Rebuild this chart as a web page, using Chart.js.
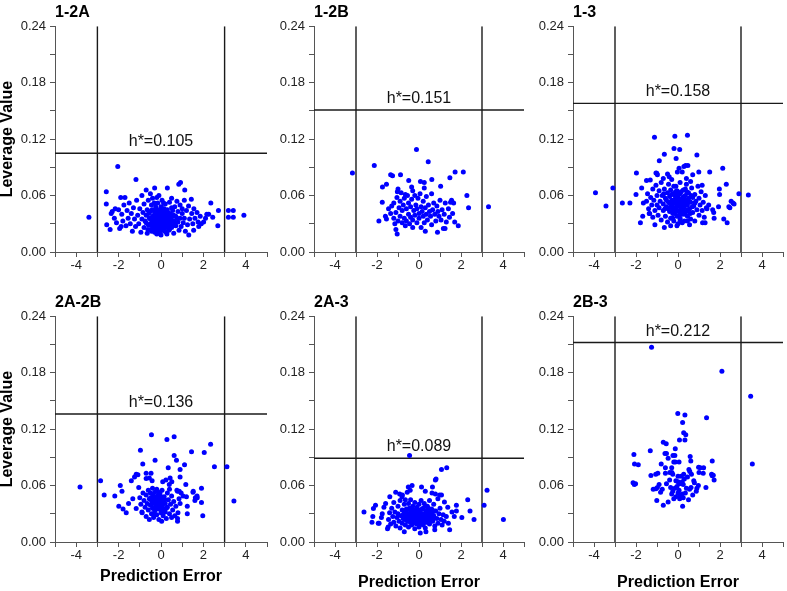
<!DOCTYPE html>
<html>
<head>
<meta charset="utf-8">
<script src="https://cdn.jsdelivr.net/npm/chart.js@4.4.0/dist/chart.umd.min.js"></script>
<style>
  body { margin: 0; background: #fff; width: 787px; height: 591px; position: relative; overflow: hidden; }
  canvas { position: absolute; }
</style>
</head>
<body>
<script>
// panel names and thresholds
const panelNames = ['1-2A', '1-2B', '1-3', '2A-2B', '2A-3', '2B-3'];
const hStar = [0.105, 0.151, 0.158, 0.136, 0.089, 0.212];
const errorLimits = [-3, 3];

// [prediction error, leverage value]
const pts12A = [
  [-3.40,0.037],[-2.04,0.091],[-1.18,0.077],[0.92,0.074],[0.84,0.072],[-2.58,0.064],[-2.58,0.051],[-2.56,0.029],
  [-2.40,0.024],[-2.35,0.041],[-2.16,0.046],[-1.88,0.027],[1.12,0.066],[1.43,0.056],[2.35,0.052],[2.71,0.044],
  [2.68,0.028],[3.18,0.044],[3.41,0.044],[3.18,0.037],[3.41,0.037],[3.91,0.039],[2.44,0.037],[2.16,0.040],
  [2.01,0.032],[1.78,0.027],[1.54,0.023],[1.31,0.018],
  [-2.3,0.043],[-2.2,0.036],[-2.1,0.031],[-2.0,0.045],[-1.95,0.025],[-1.9,0.058],[-1.85,0.040],[-1.8,0.033],
  [-1.75,0.050],[-1.7,0.058],[-1.65,0.028],[-1.6,0.044],[-1.55,0.036],[-1.5,0.052],[-1.45,0.030],[-1.4,0.041],
  [-1.35,0.022],[-1.3,0.047],[-1.25,0.035],[-1.2,0.027],[-1.15,0.055],[-1.1,0.039],[-1.05,0.030],[-1.0,0.046],
  [-0.95,0.021],[-0.9,0.060],[-0.9,0.035],[-0.85,0.042],[-0.8,0.026],[-0.8,0.051],[-0.75,0.033],[-0.7,0.066],
  [-0.7,0.039],[-0.65,0.020],[-0.65,0.045],[-0.6,0.029],[-0.6,0.055],[-0.55,0.036],[-0.5,0.062],[-0.5,0.024],
  [-0.5,0.043],[-0.45,0.031],[-0.45,0.050],[-0.4,0.038],[-0.4,0.027],[-0.4,0.057],[-0.35,0.034],[-0.35,0.044],
  [-0.3,0.068],[-0.3,0.021],[-0.3,0.030],[-0.3,0.040],[-0.25,0.036],[-0.25,0.048],[-0.25,0.026],[-0.2,0.033],
  [-0.2,0.043],[-0.2,0.058],[-0.2,0.019],[-0.15,0.029],[-0.15,0.038],[-0.15,0.052],[-0.1,0.060],[-0.1,0.024],
  [-0.1,0.035],[-0.1,0.045],[-0.05,0.031],[-0.05,0.040],[0.0,0.027],[0.0,0.036],[0.0,0.048],[0.0,0.018],
  [0.05,0.033],[0.05,0.042],[0.05,0.055],[0.1,0.029],[0.1,0.038],[0.1,0.023],[0.15,0.046],[0.15,0.034],
  [0.2,0.040],[0.2,0.027],[0.2,0.051],[0.25,0.032],[0.25,0.021],[0.3,0.068],[0.3,0.037],[0.3,0.045],
  [0.35,0.028],[0.35,0.034],[0.4,0.041],[0.4,0.024],[0.4,0.053],[0.45,0.031],[0.5,0.057],[0.5,0.037],
  [0.5,0.026],[0.55,0.044],[0.6,0.033],[0.6,0.020],[0.65,0.048],[0.7,0.038],[0.7,0.028],[0.75,0.054],
  [0.8,0.043],[0.8,0.032],[0.85,0.023],[0.9,0.050],[0.9,0.036],[0.95,0.027],[1.0,0.046],[1.0,0.041],
  [1.05,0.031],[1.1,0.055],[1.1,0.036],[1.15,0.022],[1.2,0.044],[1.25,0.029],[1.3,0.049],[1.35,0.035],
  [1.45,0.041],[1.5,0.030],[1.55,0.046],[1.6,0.036],[1.7,0.042],[1.75,0.032],[1.85,0.038],[1.9,0.030],
  [2.1,0.036],[2.25,0.040],
  [-0.35,0.025],[-0.3,0.036],[-0.28,0.045],[-0.25,0.031],[-0.22,0.039],[-0.2,0.024],[-0.18,0.035],[-0.15,0.042],
  [-0.12,0.027],[-0.1,0.032],[-0.08,0.040],[-0.05,0.022],[-0.05,0.036],[-0.02,0.044],[0.0,0.031],[0.02,0.039],
  [0.03,0.025],[0.06,0.035],[0.08,0.046],[0.1,0.032],[0.12,0.041],[0.13,0.027],[0.15,0.037],[0.17,0.022],
  [0.18,0.043],[0.2,0.034],[0.22,0.030],[0.25,0.039],[0.27,0.026],[0.3,0.033],[0.32,0.042],[0.35,0.038],
  [0.37,0.023],[0.4,0.035],[0.42,0.029],[0.45,0.040],[0.48,0.033],[0.5,0.047],[-0.4,0.033],[-0.42,0.045],
  [-0.45,0.022],[-0.5,0.035],[-0.55,0.029],[-0.58,0.041],[-0.62,0.024],[0.55,0.028],[0.6,0.039],[0.65,0.031],
  [-0.32,0.052],[0.12,0.052],[-0.7,0.031],[0.75,0.036],[-0.15,0.020],[0.28,0.019],[-0.38,0.030]
];

const pts12B = [
  [-3.17,0.084],[-2.13,0.092],[-0.12,0.109],[0.44,0.096],[-1.35,0.082],[-1.26,0.081],[-0.88,0.082],[-1.55,0.072],
  [-1.74,0.069],[1.72,0.085],[2.11,0.085],[1.47,0.079],[2.28,0.060],[2.36,0.047],[3.31,0.048],[-1.91,0.033],
  [-1.75,0.053],[-1.10,0.024],[-1.04,0.019],[0.88,0.021],[1.87,0.028],[1.16,0.025],[1.24,0.025],[0.07,0.075],
  [0.25,0.074],[0.25,0.068],[-0.49,0.076],[0.61,0.077],[1.03,0.070],[-0.35,0.069],[-0.30,0.065],[-1.0,0.067],
  [-1.03,0.064],[-0.65,0.061],
  [-1.6,0.038],[-1.55,0.035],[-1.45,0.046],[-1.35,0.041],[-1.3,0.049],[-1.2,0.036],[-1.2,0.052],[-1.15,0.030],
  [-1.1,0.042],[-1.05,0.058],[-1.0,0.033],[-0.95,0.047],[-0.9,0.054],[-0.9,0.038],[-0.85,0.063],[-0.8,0.031],
  [-0.8,0.044],[-0.75,0.050],[-0.7,0.057],[-0.7,0.036],[-0.65,0.028],[-0.6,0.046],[-0.6,0.033],[-0.55,0.060],
  [-0.5,0.040],[-0.5,0.052],[-0.45,0.030],[-0.4,0.037],[-0.4,0.048],[-0.35,0.056],[-0.3,0.034],[-0.3,0.026],
  [-0.25,0.044],[-0.2,0.060],[-0.2,0.039],[-0.15,0.050],[-0.1,0.031],[-0.1,0.046],[-0.05,0.057],[0.0,0.041],
  [0.0,0.036],[0.05,0.062],[0.1,0.026],[0.1,0.048],[0.15,0.043],[0.2,0.038],[0.2,0.054],[0.25,0.031],
  [0.3,0.047],[0.3,0.022],[0.35,0.059],[0.35,0.040],[0.4,0.034],[0.45,0.050],[0.5,0.043],[0.55,0.038],
  [0.6,0.029],[0.6,0.062],[0.65,0.045],[0.7,0.052],[0.75,0.040],[0.8,0.033],[0.85,0.049],[0.9,0.043],
  [0.95,0.038],[1.0,0.055],[1.05,0.034],[1.1,0.045],[1.2,0.040],[1.25,0.052],[1.3,0.032],[1.4,0.046],
  [1.45,0.037],[1.5,0.053],[1.55,0.055],[1.6,0.041],[1.65,0.052],[1.7,0.032]
];

const pts13 = [
  [-3.93,0.063],[-3.43,0.049],[-3.10,0.068],[-2.65,0.052],[-2.29,0.052],[-1.98,0.084],[-1.12,0.122],[-0.15,0.123],
  [0.45,0.124],[-0.65,0.104],[-0.19,0.110],[0.08,0.109],[-0.09,0.0995],[-0.89,0.097],[0.90,0.103],[2.13,0.089],
  [1.51,0.085],[2.90,0.062],[3.35,0.0605],[2.30,0.072],[2.62,0.052],[2.42,0.048],[2.34,0.031],[2.18,0.035],
  [1.72,0.036],[-1.79,0.031],[-0.65,0.026],[-0.05,0.028],[1.17,0.031],[1.29,0.031],[0.36,0.092],[0.47,0.092],
  [-1.32,0.0765],[-1.01,0.0836],
  [-1.5,0.054],[-1.45,0.062],[-1.4,0.046],[-1.35,0.041],[-1.3,0.058],[-1.25,0.050],[-1.2,0.067],[-1.2,0.037],
  [-1.15,0.055],[-1.1,0.044],[-1.05,0.071],[-1.0,0.050],[-1.0,0.060],[-0.95,0.039],[-0.9,0.065],[-0.9,0.047],
  [-0.85,0.054],[-0.8,0.034],[-0.8,0.074],[-0.75,0.060],[-0.7,0.044],[-0.7,0.051],[-0.65,0.067],[-0.6,0.038],
  [-0.6,0.057],[-0.55,0.048],[-0.5,0.063],[-0.5,0.032],[-0.45,0.053],[-0.45,0.072],[-0.4,0.043],[-0.4,0.059],
  [-0.35,0.036],[-0.35,0.066],[-0.3,0.050],[-0.3,0.055],[-0.25,0.041],[-0.25,0.062],[-0.2,0.047],[-0.2,0.070],
  [-0.2,0.033],[-0.15,0.056],[-0.15,0.060],[-0.1,0.044],[-0.1,0.052],[-0.05,0.038],[-0.05,0.065],[0.0,0.049],
  [0.0,0.058],[0.0,0.030],[0.05,0.054],[0.05,0.043],[0.1,0.062],[0.1,0.036],[0.1,0.074],[0.15,0.050],
  [0.15,0.046],[0.2,0.057],[0.2,0.040],[0.25,0.066],[0.25,0.052],[0.3,0.033],[0.3,0.047],[0.35,0.060],
  [0.35,0.055],[0.4,0.043],[0.4,0.072],[0.45,0.050],[0.45,0.038],[0.5,0.063],[0.5,0.057],[0.55,0.046],
  [0.6,0.035],[0.6,0.053],[0.65,0.068],[0.7,0.042],[0.7,0.058],[0.75,0.049],[0.8,0.061],[0.8,0.033],
  [0.85,0.054],[0.9,0.045],[0.95,0.070],[1.0,0.039],[1.0,0.057],[1.05,0.050],[1.1,0.064],[1.15,0.044],
  [1.2,0.053],[1.25,0.037],[1.3,0.060],[1.35,0.047],[1.46,0.050],[1.38,0.046],[1.65,0.045],[1.7,0.042],
  [1.97,0.067],[1.98,0.061],[2.53,0.054],[2.67,0.051],[2.47,0.047],[1.93,0.048],[-2.0,0.061],[-1.65,0.052],
  [-1.73,0.068],[-1.5,0.076],[-1.68,0.038],[-1.37,0.041],[-1.05,0.084],[-0.98,0.082],[-0.5,0.083],[-0.42,0.080],
  [0.05,0.089],[-0.03,0.085],[0.28,0.091],[0.2,0.085],[0.7,0.082],[0.99,0.085],[-0.3,0.077],[0.4,0.078],
  [0.6,0.075],[-0.7,0.078],[1.15,0.071],[-1.1,0.029],[0.55,0.029],[0.2,0.031],[-0.35,0.028],
  [-0.45,0.046],[-0.4,0.052],[-0.35,0.048],[-0.3,0.061],[-0.25,0.045],[-0.2,0.052],[-0.15,0.041],[-0.12,0.064],
  [-0.08,0.048],[-0.05,0.055],[0.0,0.044],[0.02,0.062],[0.05,0.050],[0.08,0.040],[0.12,0.056],[0.15,0.064],
  [0.18,0.045],[0.22,0.053],[0.25,0.043],[0.28,0.059],[0.3,0.050],[0.33,0.040],[0.38,0.052],[0.42,0.064],
  [0.48,0.045],[0.52,0.054],[0.58,0.041],[0.62,0.060],[0.68,0.048],[-0.55,0.055],[-0.62,0.046],[-0.68,0.062],
  [-0.1,0.070],[0.35,0.067],[0.1,0.034],[-0.25,0.036],[0.45,0.033],[0.8,0.052]
];

const pts2A2B = [
  [-3.82,0.0585],[-2.85,0.065],[-2.68,0.050],[-2.18,0.049],[-1.99,0.038],[-1.92,0.060],[-1.84,0.054],[-1.79,0.035],
  [-1.64,0.031],[-1.53,0.041],[-1.40,0.065],[-1.33,0.046],[-1.25,0.069],[-1.17,0.072],[-1.17,0.0355],[-1.05,0.058],
  [-0.97,0.0975],[-0.86,0.083],[-0.70,0.073],[-0.70,0.0675],[-0.45,0.114],[-0.28,0.087],[-0.47,0.073],[0.28,0.109],
  [0.62,0.112],[0.62,0.092],[0.73,0.087],[0.34,0.079],[0.90,0.077],[1.11,0.082],[1.44,0.096],[2.04,0.095],
  [2.34,0.104],[2.52,0.080],[3.11,0.080],[3.44,0.0435],[1.17,0.061],[1.52,0.054],[1.62,0.047],[1.7,0.049],
  [1.91,0.057],[1.91,0.042],[1.97,0.028],[1.24,0.038],[1.24,0.030],[0.86,0.054],[0.95,0.052],[0.78,0.025],
  [0.78,0.022],[0.03,0.022],
  [-1.09,0.0716],[-0.55,0.068],[-0.42,0.065],[0.23,0.066],[0.43,0.068],[0.51,0.064],[0.39,0.061],[0.08,0.064],
  [0.9,0.069],[0.78,0.054],[1.04,0.049],[1.2,0.048],[1.51,0.053],[1.71,0.047],[1.6,0.044],[-0.89,0.031],
  [-1.0,0.047],[-0.95,0.040],[-0.9,0.032],[-0.85,0.052],[-0.8,0.044],[-0.75,0.037],[-0.7,0.050],[-0.7,0.027],
  [-0.65,0.041],[-0.6,0.055],[-0.6,0.034],[-0.55,0.046],[-0.55,0.024],[-0.5,0.039],[-0.5,0.052],[-0.45,0.030],
  [-0.45,0.044],[-0.4,0.057],[-0.4,0.036],[-0.35,0.048],[-0.35,0.026],[-0.3,0.041],[-0.3,0.053],[-0.3,0.033],
  [-0.25,0.045],[-0.25,0.038],[-0.2,0.056],[-0.2,0.029],[-0.15,0.042],[-0.15,0.049],[-0.1,0.035],[-0.1,0.024],
  [-0.05,0.046],[-0.05,0.052],[0.0,0.039],[0.0,0.031],[0.05,0.044],[0.05,0.055],[0.1,0.036],[0.1,0.028],
  [0.15,0.048],[0.2,0.041],[0.2,0.032],[0.25,0.025],[0.3,0.052],[0.3,0.037],[0.35,0.045],[0.4,0.030],
  [0.4,0.056],[0.45,0.040],[0.5,0.026],[0.5,0.049],[0.55,0.034],[0.6,0.043],[0.65,0.028],[0.7,0.038],
  [0.75,0.055],[0.8,0.031],[0.85,0.046],[0.9,0.041],
  [-0.42,0.041],[-0.38,0.050],[-0.32,0.045],[-0.27,0.034],[-0.22,0.048],[-0.18,0.038],[-0.12,0.053],[-0.08,0.042],
  [-0.02,0.035],[0.02,0.048],[0.08,0.040],[0.12,0.033],[0.18,0.045],[-0.35,0.029],[0.25,0.036],[-0.48,0.047]
];

const pts2A3 = [
  [-0.45,0.092],[1.07,0.077],[1.32,0.079],[0.81,0.067],[2.32,0.045],[2.43,0.033],[2.62,0.024],[2.04,0.026],
  [3.10,0.039],[3.24,0.055],[4.02,0.024],[-2.62,0.032],[-2.24,0.021],[-2.20,0.027],[-2.07,0.039],[-1.94,0.020],
  [-1.50,0.014],[-1.11,0.053],[-0.92,0.051],[-0.79,0.050],[-0.51,0.0585],[-0.33,0.060],[-0.56,0.053],[0.12,0.0585],
  [0.30,0.054],[0.64,0.0585],[0.62,0.052],[0.78,0.051],[1.07,0.050],[1.78,0.039],[1.78,0.033],[1.46,0.013],
  [-0.70,0.011],[0.06,0.0096],[0.33,0.011],[0.75,0.013],
  [-2.17,0.0355],[-1.75,0.030],[-1.67,0.037],[-1.59,0.041],[-1.79,0.026],[-1.39,0.048],[-1.47,0.016],[-0.81,0.048],
  [-0.42,0.055],[0.78,0.066],[0.98,0.050],[1.21,0.0425],[1.37,0.037],[1.57,0.032],[1.68,0.027],[-1.9,0.020],
  [-1.45,0.024],[-1.4,0.031],[-1.35,0.019],[-1.3,0.036],[-1.25,0.027],[-1.2,0.042],[-1.2,0.021],[-1.15,0.032],
  [-1.1,0.017],[-1.05,0.026],[-1.0,0.038],[-1.0,0.030],[-0.95,0.022],[-0.9,0.044],[-0.9,0.015],[-0.85,0.028],
  [-0.8,0.034],[-0.8,0.020],[-0.75,0.025],[-0.7,0.040],[-0.7,0.031],[-0.65,0.018],[-0.65,0.045],[-0.6,0.027],
  [-0.6,0.035],[-0.55,0.022],[-0.5,0.030],[-0.5,0.041],[-0.5,0.016],[-0.45,0.026],[-0.45,0.036],[-0.4,0.021],
  [-0.4,0.032],[-0.4,0.045],[-0.35,0.028],[-0.35,0.018],[-0.3,0.024],[-0.3,0.038],[-0.25,0.031],[-0.25,0.020],
  [-0.2,0.027],[-0.2,0.042],[-0.2,0.014],[-0.15,0.023],[-0.15,0.034],[-0.1,0.029],[-0.1,0.019],[-0.1,0.037],
  [-0.05,0.025],[-0.05,0.032],[0.0,0.022],[0.0,0.040],[0.0,0.016],[0.05,0.028],[0.05,0.034],[0.1,0.024],
  [0.1,0.020],[0.1,0.044],[0.15,0.030],[0.15,0.026],[0.2,0.036],[0.2,0.018],[0.25,0.023],[0.25,0.041],
  [0.3,0.029],[0.3,0.015],[0.35,0.033],[0.35,0.025],[0.4,0.021],[0.4,0.038],[0.45,0.027],[0.5,0.044],
  [0.5,0.019],[0.55,0.031],[0.55,0.024],[0.6,0.035],[0.65,0.022],[0.7,0.040],[0.7,0.028],[0.75,0.017],
  [0.8,0.033],[0.85,0.025],[0.9,0.046],[0.9,0.020],[0.95,0.030],[1.0,0.036],[1.05,0.024],[1.1,0.018],
  [1.15,0.029],[1.2,0.022],[1.3,0.027],[1.4,0.020],
  [-0.75,0.029],[-0.68,0.024],[-0.62,0.032],[-0.55,0.027],[-0.48,0.022],[-0.42,0.029],[-0.38,0.025],[-0.32,0.031],
  [-0.28,0.021],[-0.22,0.033],[-0.18,0.025],[-0.12,0.022],[-0.08,0.031],[-0.02,0.027],[0.02,0.024],[0.08,0.030],
  [0.12,0.027],[0.18,0.022],[0.22,0.030],[0.28,0.024],[0.32,0.021],[0.38,0.029],[0.42,0.025],[0.48,0.032],
  [0.52,0.022],[0.58,0.027],[0.62,0.030],[0.68,0.025],[0.72,0.033],[-0.15,0.029],[0.05,0.020],[0.15,0.035],
  [-0.3,0.034],[0.45,0.036],[-0.5,0.035],[0.3,0.038]
];

const pts2B3 = [
  [-1.26,0.207],[2.09,0.1815],[3.46,0.155],[3.54,0.083],[-0.01,0.1365],[0.33,0.135],[1.36,0.132],[0.22,0.127],
  [0.27,0.116],[0.37,0.114],[0.07,0.1085],[0.33,0.1085],[-0.70,0.106],[-0.56,0.1045],[-1.32,0.097],[-2.10,0.093],
  [-2.07,0.083],[-1.89,0.082],[-2.14,0.063],[-2.02,0.062],[-2.08,0.061],[-1.29,0.0706],[-1.06,0.072],[-0.96,0.073],
  [-1.18,0.056],[-1.05,0.0565],[-0.98,0.058],[-0.9,0.061],[-1.01,0.044],[-0.75,0.056],[-0.80,0.083],[-0.62,0.094],
  [-0.55,0.094],[-0.47,0.089],[-0.6,0.079],[-0.6,0.073],[-0.70,0.039],[-0.47,0.0425],[-0.83,0.053],[-0.24,0.092],
  [-0.15,0.092],[-0.2,0.085],[-0.13,0.085],[-0.3,0.079],[-0.13,0.099],[-0.39,0.074],[-0.29,0.074],[0.05,0.085],
  [0.0,0.070],[0.58,0.091],[0.61,0.086],[0.52,0.077],[0.56,0.075],[0.64,0.072],[0.98,0.0795],[1.06,0.079],
  [1.22,0.079],[1.0,0.074],[1.2,0.073],[1.63,0.086],[1.6,0.072],[1.68,0.071],[1.63,0.0705],[1.72,0.066],
  [1.33,0.058],[0.75,0.065],[0.78,0.063],
  [0.97,0.060],[0.9,0.057],[0.87,0.054],[0.27,0.072],[0.3,0.067],[0.2,0.064],[0.25,0.061],[-0.1,0.065],
  [0.0,0.064],[0.07,0.062],[-0.05,0.059],[-0.15,0.057],[0.05,0.055],[-0.25,0.054],[0.0,0.052],[0.2,0.051],
  [0.35,0.052],[0.55,0.056],[0.62,0.058],[0.4,0.057],[0.25,0.047],[-0.3,0.051],[-0.1,0.048],[0.08,0.046],
  [0.22,0.038],[0.5,0.045],[0.7,0.050],[-0.2,0.046],[0.1,0.049],[-0.4,0.066],[-0.25,0.072],[0.15,0.070],
  [-0.55,0.062],[0.45,0.069],[-0.35,0.058]
];

const panelPoints = [pts12A, pts12B, pts13, pts2A2B, pts2A3, pts2B3];

// canvas placement for the 3x2 grid
const cols = [
  { left: 0,   width: 271, axisW: 55, padR: 2 },
  { left: 271, width: 257, axisW: 43, padR: 1 },
  { left: 528, width: 259, axisW: 45, padR: 1 }
];
const rows = [
  { top: 0,   height: 288, padT: 0, axisH: 36 },
  { top: 288, height: 303, padT: 2, axisH: 49 }
];

const FONT = 'Arial, "Liberation Sans", sans-serif';
Chart.defaults.font.family = FONT;

// writes h*=... above the threshold line
const hLabel = {
  id: 'hLabel',
  afterDatasetsDraw(chart, args, opts) {
    const { ctx, scales: { x, y } } = chart;
    ctx.save();
    ctx.font = '16px ' + FONT;
    ctx.fillStyle = '#111';
    ctx.textAlign = 'center';
    ctx.textBaseline = 'alphabetic';
    ctx.fillText('h*=' + opts.value.toFixed(3), x.getPixelForValue(0), y.getPixelForValue(opts.value) - 7);
    ctx.restore();
  }
};

function refLine(points) {
  return {
    data: points,
    showLine: true,
    borderColor: '#1a1a1a',
    borderWidth: 1.4,
    pointRadius: 0,
    fill: false
  };
}

panelPoints.forEach((pts, i) => {
  const col = cols[i % 3], row = rows[Math.floor(i / 3)];
  const canvas = document.createElement('canvas');
  canvas.width = col.width;
  canvas.height = row.height;
  canvas.style.left = col.left + 'px';
  canvas.style.top = row.top + 'px';
  document.body.appendChild(canvas);

  const h = hStar[i];
  new Chart(canvas.getContext('2d'), {
    type: 'scatter',
    data: {
      datasets: [
        {
          data: pts.map(p => ({ x: p[0], y: p[1] })),
          backgroundColor: '#0000ff',
          borderWidth: 0,
          pointRadius: 2.5
        },
        refLine([{ x: errorLimits[0], y: 0 }, { x: errorLimits[0], y: 0.24 }]),
        refLine([{ x: errorLimits[1], y: 0 }, { x: errorLimits[1], y: 0.24 }]),
        refLine([{ x: -5, y: h }, { x: 5, y: h }])
      ]
    },
    options: {
      responsive: false,
      animation: false,
      events: [],
      layout: { padding: { top: row.padT, right: col.padR, left: 0, bottom: 0 } },
      plugins: {
        legend: { display: false },
        tooltip: { enabled: false },
        title: {
          display: true,
          text: panelNames[i],
          align: 'start',
          fullSize: false,
          color: '#000',
          font: { size: 16, weight: 'bold' },
          padding: { top: 3, bottom: 4 }
        },
        hLabel: { value: h }
      },
      scales: {
        x: {
          type: 'linear',
          min: -5,
          max: 5,
          afterFit: s => { s.height = row.axisH; },
          ticks: {
            stepSize: 1,
            autoSkip: false,
            maxRotation: 0,
            padding: 1,
            color: '#222',
            font: { size: 13 },
            callback: v => (v % 2 === 0 && Math.abs(v) < 5) ? String(v) : ''
          },
          grid: { drawOnChartArea: false, tickLength: 5, color: '#555' },
          border: { color: '#555', width: 1 },
          title: {
            display: i >= 3,
            text: 'Prediction Error',
            color: '#000',
            font: { size: 16, weight: 'bold', lineHeight: 1 },
            padding: { top: 0, bottom: i === 3 ? 6 : 0 }
          }
        },
        y: {
          min: 0,
          max: 0.24,
          afterFit: s => { s.width = col.axisW; },
          ticks: {
            stepSize: 0.03,
            autoSkip: false,
            padding: 4,
            color: '#222',
            font: { size: 13 },
            callback: (v, idx) => idx % 2 === 0 ? v.toFixed(2) : ''
          },
          grid: { drawOnChartArea: false, tickLength: 5, color: '#555' },
          border: { color: '#555', width: 1 },
          title: {
            display: i % 3 === 0,
            text: 'Leverage Value',
            color: '#000',
            font: { size: 16, weight: 'bold', lineHeight: 1 },
            padding: 0
          }
        }
      }
    },
    plugins: [hLabel]
  });
});
</script>
</body>
</html>
